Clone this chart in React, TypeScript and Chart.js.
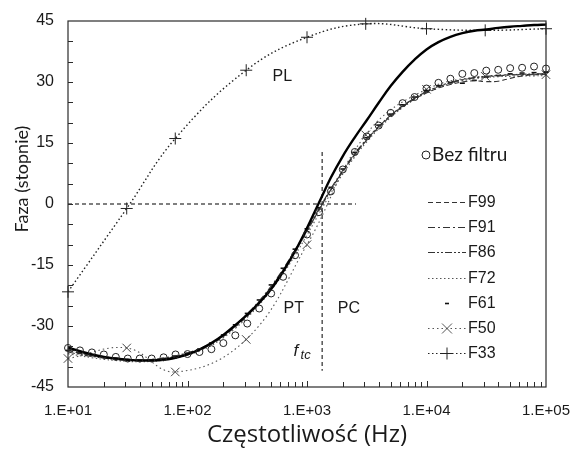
import React, { useEffect, useRef } from 'react';
import { Chart, registerables } from 'chart.js';

Chart.register(...registerables);

// ---- data ----
const FREQ = [10, 12.59, 15.85, 19.95, 25.12, 31.62, 39.81, 50.12, 63.1, 79.43, 100, 125.9, 158.5, 199.5, 251.2, 316.2, 398.1, 501.2, 631, 794.3, 1000, 1259, 1585, 1995, 2512, 3162, 3981, 5012, 6310, 7943, 10000, 12589, 15849, 19953, 25119, 31623, 39811, 50119, 63096, 79433, 100000];
const FREQ_SPARSE = [10, 31, 79, 310, 1000, 3100, 10000, 31000, 100000];

const BEZ_FILTRU = [-35.4, -36.0, -36.5, -37.0, -37.6, -38.0, -38.0, -38.0, -37.7, -37.0, -36.9, -36.4, -35.7, -34.2, -32.3, -29.4, -25.7, -22.0, -17.9, -12.6, -7.5, -2.0, 3.1, 8.5, 12.8, 16.6, 19.3, 22.4, 24.8, 26.3, 28.4, 29.8, 30.8, 32.0, 32.2, 32.8, 33.0, 33.4, 33.5, 33.8, 33.3];
const MODEL = [-35.3, -36.2, -37.0, -37.6, -38.0, -38.3, -38.5, -38.5, -38.3, -37.8, -37.0, -35.8, -34.2, -32.2, -29.8, -27.2, -24.3, -20.9, -16.6, -11.6, -5.9, 0.3, 6.5, 11.8, 16.4, 20.6, 24.9, 29.0, 32.5, 35.5, 38.0, 39.8, 41.1, 42.0, 42.6, 42.9, 43.3, 43.6, 43.8, 44.0, 44.1];
const F99 = [-36.0, -36.7, -37.3, -37.8, -38.1, -38.3, -38.4, -38.3, -38.0, -37.5, -36.8, -35.9, -34.5, -32.6, -30.2, -27.6, -24.3, -20.6, -16.4, -11.7, -6.7, -1.5, 3.5, 8.0, 12.1, 15.7, 18.8, 21.6, 23.9, 25.8, 27.3, 28.5, 29.4, 30.0, 30.3, 30.1, 30.2, 30.9, 31.5, 31.8, 31.9];
const F91 = [-35.7, -36.4, -37.0, -37.5, -37.9, -38.2, -38.3, -38.2, -37.9, -37.3, -36.6, -35.6, -34.1, -32.2, -29.8, -27.0, -23.8, -20.2, -16.0, -11.3, -6.3, -1.2, 3.8, 8.3, 12.4, 16.0, 19.1, 21.8, 24.1, 26.0, 27.6, 28.8, 29.8, 30.5, 31.0, 31.3, 31.5, 31.7, 31.8, 31.9, 32.0];
const F86 = [-36.4, -37.0, -37.5, -37.9, -38.2, -38.4, -38.5, -38.4, -38.1, -37.6, -36.9, -35.9, -34.4, -32.4, -30.0, -27.2, -24.0, -20.4, -16.3, -11.6, -6.6, -1.5, 3.5, 8.1, 12.2, 15.8, 19.0, 21.8, 24.1, 26.0, 27.6, 28.9, 29.9, 30.6, 31.1, 31.4, 31.6, 31.8, 31.9, 32.0, 32.0];
const F72 = [-36.8, -37.3, -37.8, -38.2, -38.5, -38.7, -38.8, -38.7, -38.4, -37.9, -37.2, -36.2, -34.8, -32.9, -30.6, -27.9, -24.8, -21.2, -17.2, -12.6, -7.6, -2.4, 2.7, 7.4, 11.6, 15.3, 18.5, 21.3, 23.7, 25.7, 27.3, 28.6, 29.6, 30.3, 30.8, 31.1, 31.3, 31.4, 31.5, 31.5, 31.6];
const F61 = [-36.0, -36.6, -37.2, -37.7, -38.0, -38.3, -38.4, -38.3, -38.0, -37.4, -36.7, -35.7, -34.2, -32.2, -29.7, -26.9, -23.6, -19.9, -15.8, -11.1, -6.1, -0.9, 4.1, 8.6, 12.7, 16.3, 19.4, 22.1, 24.4, 26.3, 27.9, 29.1, 29.8, 29.7, 30.4, 31.2, 31.6, 32.0, 32.2, 32.3, 32.4];
const F50 = [-38.0, -35.4, -41.3, -33.3, -10.0, 17.0, 28.2, 31.4, 31.8];
const F33 = [-21.6, -1.1, 16.1, 32.9, 41.0, 44.3, 43.1, 42.7, 43.1];

const F_TC = 1340;
const H_LINE_X = [10, 2570];
const H_LINE_Y = [0, 0];
const V_LINE_X = [F_TC, F_TC];
const V_LINE_Y = [12.8, -41];

const X_TICKS = [10, 100, 1000, 10000, 100000];
const Y_MIN = -45;
const Y_MAX = 45;
const Y_STEP = 15;
const Y_MINOR = 5;

const LABELS = [
  { text: 'PL', x: 621, y: 31.4 },
  { text: 'PT', x: 776, y: -25.6 },
  { text: 'PC', x: 2240, y: -25.6 },
];
const FTC_LABEL = { x: 955, y: -36.4 };

const pts = (xs: number[], ys: number[]) => xs.map((x, i) => ({ x, y: ys[i] }));

const ARIAL = '"Liberation Sans", Arial, sans-serif';
const CAL = 'Lato, "Open Sans", sans-serif';
const OPEN = '"Open Sans", Lato, sans-serif';

const plotPlugin = {
  id: 'plotDecor',
  afterDatasetsDraw(chart: any) {
    const { ctx, chartArea: a, scales } = chart;
    const xs = scales.x;
    const ys = scales.y;
    ctx.save();
    // frame
    ctx.strokeStyle = '#2b2b2b';
    ctx.lineWidth = 1.2;
    ctx.setLineDash([]);
    ctx.strokeRect(a.left, a.top, a.right - a.left, a.bottom - a.top);
    // inward y ticks
    ctx.lineWidth = 1;
    for (let v = Y_MIN + Y_MINOR; v < Y_MAX; v += Y_MINOR) {
      const y = Math.round(ys.getPixelForValue(v)) + 0.5;
      ctx.beginPath();
      ctx.moveTo(a.left, y);
      ctx.lineTo(a.left + 5, y);
      ctx.stroke();
    }
    // inward x ticks (log minor)
    for (let i = 0; i < X_TICKS.length - 1; i++) {
      const d = X_TICKS[i];
      for (let k = 1; k < 10; k++) {
        if (i === 0 && k === 1) continue;
        const x = Math.round(xs.getPixelForValue(d * k)) + 0.5;
        const len = k === 1 ? 6 : 5;
        ctx.beginPath();
        ctx.moveTo(x, a.bottom);
        ctx.lineTo(x, a.bottom - len);
        ctx.stroke();
      }
    }
    // region labels
    ctx.fillStyle = '#1a1a1a';
    ctx.font = `16px ${ARIAL}`;
    ctx.textAlign = 'center';
    ctx.textBaseline = 'middle';
    for (const l of LABELS) {
      ctx.fillText(l.text, xs.getPixelForValue(l.x), ys.getPixelForValue(l.y));
    }
    // f_tc
    const fx = xs.getPixelForValue(FTC_LABEL.x);
    const fy = ys.getPixelForValue(FTC_LABEL.y);
    ctx.textAlign = 'left';
    ctx.textBaseline = 'alphabetic';
    ctx.font = `italic 17px ${ARIAL}`;
    ctx.fillText('f', fx - 11, fy + 4);
    ctx.font = `italic 13px ${ARIAL}`;
    ctx.fillText('tc', fx - 4, fy + 7);

    // legend
    const lx0 = a.right - 118;
    const lx1 = a.right - 80;
    const tx = a.right - 78;
    const cx = (lx0 + lx1) / 2;
    // Bez filtru
    ctx.strokeStyle = '#222';
    ctx.lineWidth = 1;
    ctx.beginPath();
    ctx.arc(a.right - 120, a.top + 134, 4, 0, Math.PI * 2);
    ctx.stroke();
    ctx.font = `19px ${CAL}`;
    ctx.textBaseline = 'middle';
    ctx.fillText('Bez filtru', a.right - 114, a.top + 134);

    const rows = chart.data.datasets.filter((d: any) => d.legendRow !== undefined);
    rows.sort((p: any, q: any) => p.legendRow - q.legendRow);
    ctx.font = `16px ${ARIAL}`;
    rows.forEach((ds: any, i: number) => {
      const y = Math.round(a.top + 181 + i * 25.2) + 0.5;
      ctx.strokeStyle = ds.borderColor;
      ctx.lineWidth = 1;
      if (ds.showLine !== false) {
        ctx.setLineDash(ds.borderDash || []);
        ctx.beginPath();
        ctx.moveTo(lx0, y);
        ctx.lineTo(lx1, y);
        ctx.stroke();
      }
      ctx.setLineDash([]);
      if (ds.pointStyle === 'line') {
        ctx.lineWidth = 1.6;
        ctx.beginPath();
        ctx.moveTo(cx - 2, y);
        ctx.lineTo(cx + 2, y);
        ctx.stroke();
      } else if (ds.pointStyle === 'crossRot') {
        ctx.beginPath();
        ctx.moveTo(cx - 5, y - 5);
        ctx.lineTo(cx + 5, y + 5);
        ctx.moveTo(cx - 5, y + 5);
        ctx.lineTo(cx + 5, y - 5);
        ctx.stroke();
      } else if (ds.pointStyle === 'cross') {
        ctx.beginPath();
        ctx.moveTo(cx - 6, y);
        ctx.lineTo(cx + 6, y);
        ctx.moveTo(cx, y - 6);
        ctx.lineTo(cx, y + 6);
        ctx.stroke();
      }
      ctx.fillStyle = '#1a1a1a';
      ctx.fillText(ds.label, tx, y);
    });

    // y axis title
    ctx.save();
    ctx.translate(22, a.top + 158);
    ctx.rotate(-Math.PI / 2);
    ctx.textAlign = 'center';
    ctx.textBaseline = 'middle';
    ctx.font = `18px ${CAL}`;
    ctx.fillStyle = '#1a1a1a';
    ctx.fillText('Faza (stopnie)', 0, 0);
    ctx.restore();
    ctx.restore();
  },
};

export default function App() {
  const ref = useRef<HTMLCanvasElement>(null);
  useEffect(() => {
    document.body.style.margin = '0';
    const smooth = { tension: 0.4, pointRadius: 0, fill: false, clip: false as any };
    const chart = new Chart(ref.current as HTMLCanvasElement, {
      type: 'line',
      data: {
        datasets: [
          {
            label: 'Bez filtru', data: pts(FREQ, BEZ_FILTRU), showLine: false,
            pointStyle: 'circle', pointRadius: 3.5, pointBorderWidth: 1,
            borderColor: '#222', pointBorderColor: '#222', backgroundColor: 'rgba(0,0,0,0)', pointBackgroundColor: 'rgba(0,0,0,0)', clip: false as any,
          },
          { label: 'model', data: pts(FREQ, MODEL), borderColor: '#000', borderWidth: 2.4, ...smooth },
          { label: 'F99', legendRow: 0, data: pts(FREQ, F99), borderColor: '#333', borderWidth: 1.1, borderDash: [5, 3], ...smooth } as any,
          { label: 'F91', legendRow: 1, data: pts(FREQ, F91), borderColor: '#333', borderWidth: 1.1, borderDash: [7, 3, 2, 3], ...smooth } as any,
          { label: 'F86', legendRow: 2, data: pts(FREQ, F86), borderColor: '#333', borderWidth: 1.1, borderDash: [7, 2, 2, 2, 2, 2], ...smooth } as any,
          { label: 'F72', legendRow: 3, data: pts(FREQ, F72), borderColor: '#555', borderWidth: 1.1, borderDash: [1.5, 2.5], ...smooth } as any,
          {
            label: 'F61', legendRow: 4, data: pts(FREQ, F61), showLine: false, pointStyle: 'line',
            pointRadius: 2.5, pointBorderWidth: 1.6, borderColor: '#111', pointBorderColor: '#111', clip: false,
          } as any,
          {
            label: 'F50', legendRow: 5, data: pts(FREQ_SPARSE, F50), borderColor: '#555', borderWidth: 1.1, borderDash: [1.5, 3],
            tension: 0.4, pointStyle: 'crossRot', pointRadius: 6, pointBorderWidth: 1, pointBorderColor: '#444', clip: false,
          } as any,
          {
            label: 'F33', legendRow: 6, data: pts(FREQ_SPARSE, F33), borderColor: '#222', borderWidth: 1.4, borderDash: [1.5, 2.5],
            tension: 0.4, pointStyle: 'cross', pointRadius: 6, pointBorderWidth: 1, pointBorderColor: '#222', clip: false,
          } as any,
          { label: 'ref-h', data: pts(H_LINE_X, H_LINE_Y), borderColor: '#555', borderWidth: 1.5, borderDash: [4, 3], pointRadius: 0, tension: 0 },
          { label: 'ref-v', data: pts(V_LINE_X, V_LINE_Y), borderColor: '#555', borderWidth: 1.5, borderDash: [4, 3], pointRadius: 0, tension: 0 },
        ],
      },
      options: {
        responsive: false,
        animation: false,
        devicePixelRatio: 1,
        layout: { padding: { top: 21, right: 25, left: 0, bottom: 0 } },
        plugins: { legend: { display: false }, tooltip: { enabled: false } },
        scales: {
          x: {
            type: 'logarithmic',
            min: 10,
            max: 100000,
            afterBuildTicks: (s: any) => { s.ticks = X_TICKS.map((v) => ({ value: v, major: true })); },
            afterFit: (s: any) => { s.height = 63; s.paddingLeft = 0; s.paddingRight = 0; },
            ticks: {
              autoSkip: false,
              maxRotation: 0,
              padding: 15,
              color: '#1a1a1a',
              font: { family: ARIAL, size: 15 },
              callback: (v: any) => '1.E+' + String(Math.round(Math.log10(Number(v)))).padStart(2, '0'),
            },
            grid: { drawOnChartArea: false, drawTicks: false },
            border: { display: false },
            title: { display: true, text: 'Częstotliwość (Hz)', color: '#1a1a1a', font: { family: OPEN, size: 24 }, padding: { top: 0, bottom: 0 } },
          },
          y: {
            type: 'linear',
            min: Y_MIN,
            max: Y_MAX,
            afterFit: (s: any) => { s.width = 68; s.paddingTop = 0; s.paddingBottom = 0; },
            ticks: { stepSize: Y_STEP, padding: 14, color: '#1a1a1a', font: { family: ARIAL, size: 16 } },
            grid: { drawOnChartArea: false, drawTicks: false },
            border: { display: false },
            title: { display: false },
          },
        },
      },
      plugins: [plotPlugin],
    } as any);
    return () => chart.destroy();
  }, []);
  return <canvas ref={ref} width={571} height={450} style={{ display: 'block' }} />;
}
